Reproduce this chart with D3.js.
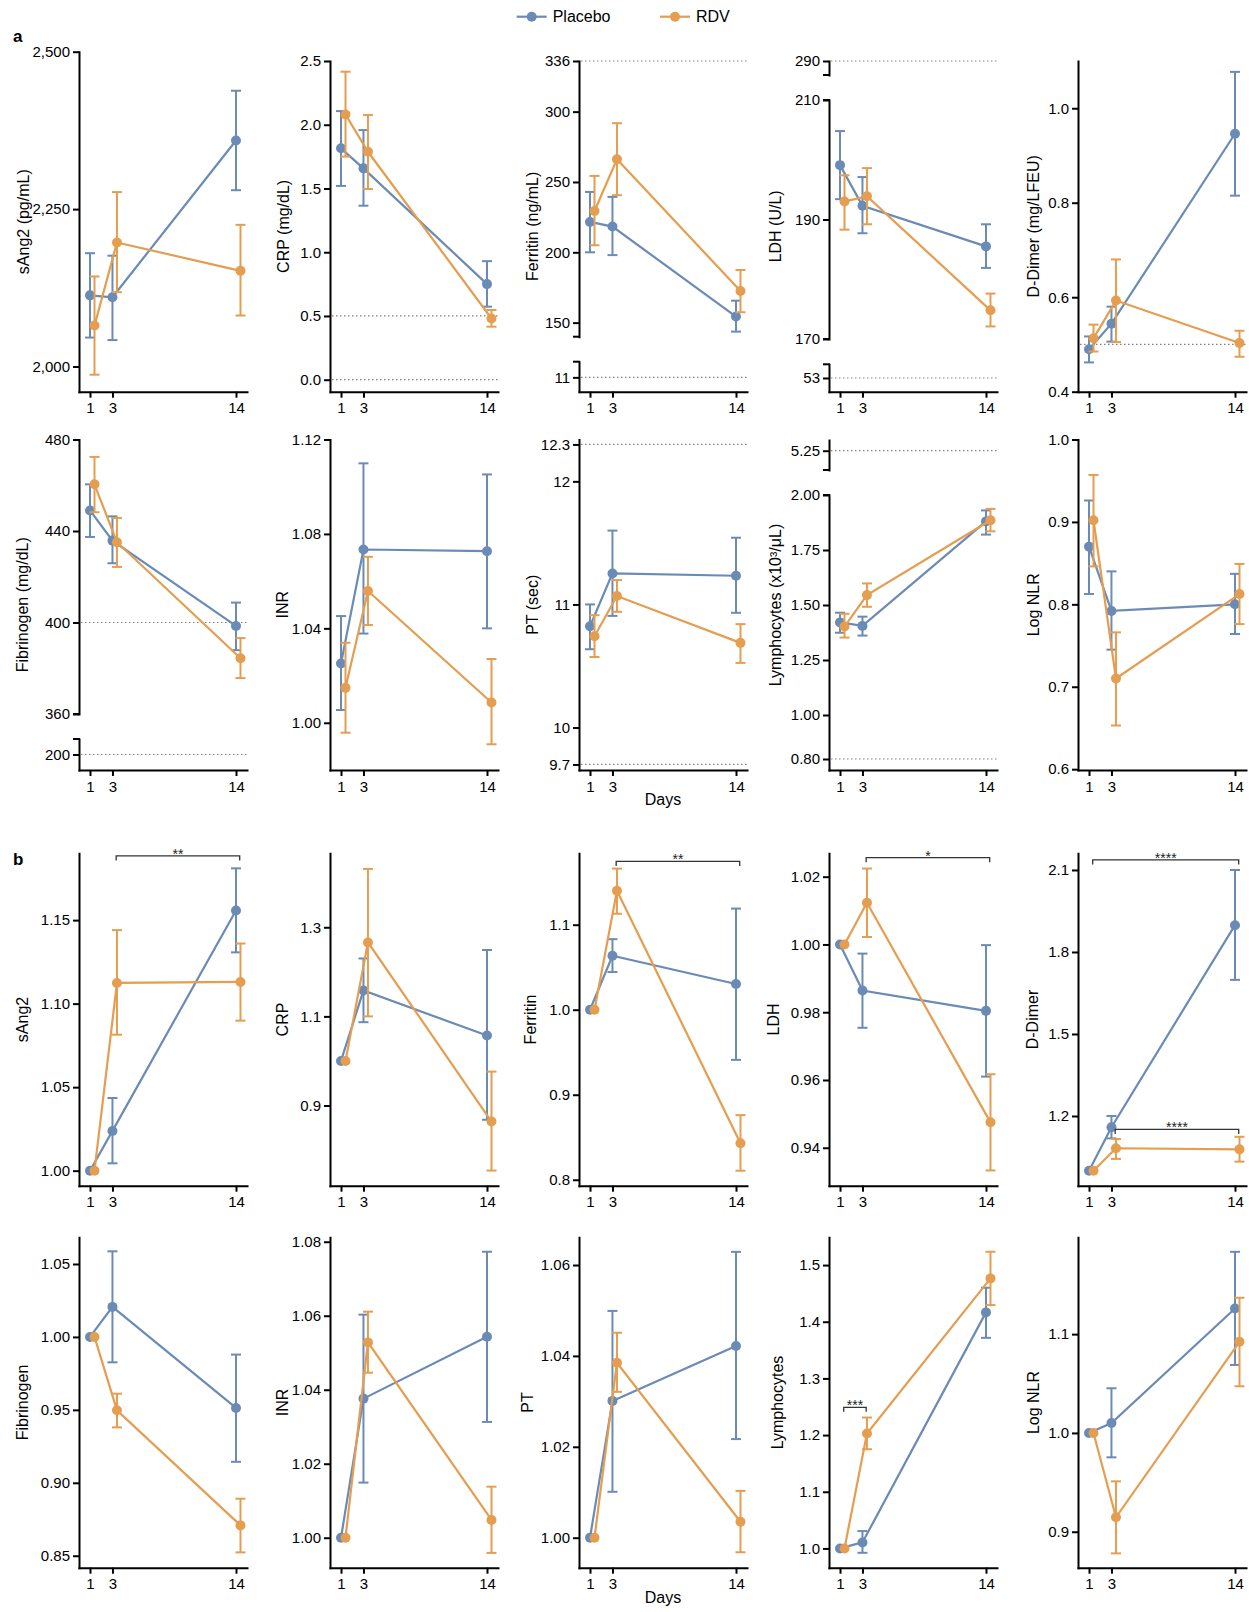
<!DOCTYPE html>
<html>
<head>
<meta charset="utf-8">
<script src="https://cdn.jsdelivr.net/npm/d3@7"></script>
<style>
  body { margin: 0; background: #fff; }
  svg { display: block; font-family: "Liberation Sans", Arial, sans-serif; }
</style>
</head>
<body>
<svg id="chart" width="1249" height="1612"></svg>
<script>
// days on the x axis
const days = [1, 3, 14];
const groups = ['Placebo', 'RDV'];

// each entry: [mean, lower, upper] for day 1, 3, 14
// --- a: absolute values
const sAng2Pl = [[2113, 2046, 2180], [2110, 2042, 2176], [2359, 2280, 2438]];
const sAng2Rdv = [[2065, 1987, 2143], [2197, 2118, 2277], [2152, 2081, 2225]];
const crpPl = [[1.815, 1.52, 2.107], [1.658, 1.365, 1.958], [0.75, 0.573, 0.93]];
const crpRdv = [[2.08, 1.75, 2.416], [1.788, 1.496, 2.076], [0.48, 0.416, 0.547]];
const ferritinPl = [[221.6, 200, 242.9], [218.3, 198, 239.4], [154.3, 143.6, 165.6]];
const ferritinRdv = [[229.4, 205, 254.3], [266.1, 240.6, 291.8], [172.5, 157.4, 187.4]];
const ldhPl = [[199.1, 193.4, 204.8], [192.3, 187.7, 197.1], [185.5, 181.9, 189.2]];
const ldhRdv = [[193.0, 188.3, 197.4], [193.9, 189.2, 198.6], [174.8, 172.1, 177.6]];
const dimerPl = [[0.49, 0.462, 0.517], [0.544, 0.506, 0.58], [0.946, 0.815, 1.077]];
const dimerRdv = [[0.513, 0.485, 0.542], [0.593, 0.505, 0.68], [0.503, 0.474, 0.529]];
const fibPl = [[449.0, 437.4, 460.4], [435.8, 425.9, 446.4], [398.5, 387.9, 408.7]];
const fibRdv = [[460.4, 448.2, 472.4], [435.1, 424.3, 445.7], [384.4, 375.7, 393.2]];
const inrPl = [[1.0251, 1.0054, 1.0452], [1.0734, 1.0378, 1.1099], [1.0727, 1.04, 1.1052]];
const inrRdv = [[1.0148, 0.9958, 1.0339], [1.0558, 1.0414, 1.0703], [1.0086, 0.9909, 1.027]];
const ptPl = [[10.823, 10.636, 11.0], [11.252, 10.907, 11.60], [11.233, 10.932, 11.542]];
const ptRdv = [[10.742, 10.573, 10.913], [11.068, 10.94, 11.198], [10.688, 10.525, 10.84]];
const lymPl = [[1.421, 1.374, 1.465], [1.405, 1.361, 1.447], [1.88, 1.82, 1.93]];
const lymRdv = [[1.402, 1.352, 1.46], [1.545, 1.492, 1.598], [1.885, 1.835, 1.937]];
const nlrPl = [[0.870, 0.8125, 0.926], [0.792, 0.745, 0.840], [0.800, 0.764, 0.837]];
const nlrRdv = [[0.902, 0.846, 0.957], [0.710, 0.653, 0.766], [0.8125, 0.776, 0.849]];

// --- b: relative to day 1
const sAng2RelPl = [[1, 1, 1], [1.0238, 1.0044, 1.0435], [1.1558, 1.1307, 1.181]];
const sAng2RelRdv = [[1, 1, 1], [1.1124, 1.0814, 1.144], [1.113, 1.0898, 1.136]];
const crpRelPl = [[1, 1, 1], [1.158, 1.087, 1.230], [1.057, 0.868, 1.249]];
const crpRelRdv = [[1, 1, 1], [1.266, 1.10, 1.431], [0.864, 0.754, 0.976]];
const ferritinRelPl = [[1, 1, 1], [1.0635, 1.0443, 1.083], [1.0302, 0.941, 1.119]];
const ferritinRelRdv = [[1, 1, 1], [1.14, 1.1129, 1.166], [0.843, 0.8106, 0.876]];
const ldhRelPl = [[1, 1, 1], [0.9864, 0.9754, 0.9973], [0.9804, 0.961, 0.9998]];
const ldhRelRdv = [[1, 1, 1], [1.0123, 1.0022, 1.0224], [0.9475, 0.9333, 0.9617]];
const dimerRelPl = [[1, 1, 1], [1.159, 1.118, 1.2], [1.898, 1.698, 2.1]];
const dimerRelRdv = [[1, 1, 1], [1.082, 1.043, 1.116], [1.078, 1.033, 1.124]];
const fibRelPl = [[1, 1, 1], [1.0206, 0.9826, 1.0587], [0.9513, 0.9144, 0.9879]];
const fibRelRdv = [[1, 1, 1], [0.9497, 0.938, 0.9611], [0.8708, 0.8523, 0.8891]];
const inrRelPl = [[1, 1, 1], [1.0376, 1.0149, 1.0603], [1.0543, 1.0313, 1.0773]];
const inrRelRdv = [[1, 1, 1], [1.0528, 1.0446, 1.0611], [1.0048, 0.9959, 1.0138]];
const ptRelPl = [[1, 1, 1], [1.0301, 1.0101, 1.0499], [1.0422, 1.0217, 1.0629]];
const ptRelRdv = [[1, 1, 1], [1.0385, 1.0321, 1.0451], [1.0035, 0.9968, 1.0103]];
const lymRelPl = [[1, 1, 1], [1.0106, 0.9923, 1.0306], [1.4165, 1.3716, 1.46]];
const lymRelRdv = [[1, 1, 1], [1.2029, 1.175, 1.231], [1.4765, 1.4294, 1.5235]];
const nlrRelPl = [[1, 1, 1], [1.0101, 0.9753, 1.0452], [1.126, 1.0688, 1.1833]];
const nlrRelRdv = [[1, 1, 1], [0.9146, 0.8781, 0.951], [1.0922, 1.0472, 1.1368]];

// layout
const colX = [79, 330, 579, 829, 1078];
const rows = [
  { top: 61, bottom: 391.7 },
  { top: 439.5, bottom: 770 },
  { top: 853.3, bottom: 1185.7 },
  { top: 1237.3, bottom: 1567.7 }
];
const color = { Placebo: '#6a8bb5', RDV: '#e59d50' };
const dayShift = { Placebo: 0, RDV: 0.4 };

const f2 = d3.format('.2f'), f1 = d3.format('.1f');

// segs: domain, ticks, px = [top, bottom] relative to row top (broken axes)
const panels = [
  { row: 0, col: 0, title: 'sAng2 (pg/mL)', pl: sAng2Pl, rdv: sAng2Rdv, fmt: d3.format(','), tdx: -56,
    segs: [{ domain: [1960, 2500], ticks: [2000, 2250, 2500], px: [-9.3, 330.7] }], refs: [] },
  { row: 0, col: 1, title: 'CRP (mg/dL)', pl: crpPl, rdv: crpRdv, fmt: f1, tdx: -47,
    segs: [{ domain: [-0.094, 2.5], ticks: [0, 0.5, 1, 1.5, 2, 2.5] }], refs: [0.5, 0] },
  { row: 0, col: 2, title: 'Ferritin (ng/mL)', pl: ferritinPl, rdv: ferritinRdv, fmt: String, tdx: -47,
    segs: [{ domain: [140, 336], ticks: [150, 200, 250, 300, 336], px: [0, 275.7] },
           { domain: [0, 23], ticks: [11], px: [300.7, 330.7] }], refs: [336, 11] },
  { row: 0, col: 3, title: 'LDH (U/L)', pl: ldhPl, rdv: ldhRdv, fmt: String, tdx: -54,
    segs: [{ domain: [288, 290], ticks: [290], px: [0, 14] },
           { domain: [170, 210], ticks: [170, 190, 210], px: [39, 278] },
           { domain: [40, 66], ticks: [53], px: [303.3, 330.7] }], refs: [290, 53] },
  { row: 0, col: 4, title: 'D-Dimer (mg/LFEU)', pl: dimerPl, rdv: dimerRdv, fmt: f1, tdx: -45,
    segs: [{ domain: [0.4, 1.1], ticks: [0.4, 0.6, 0.8, 1.0] }], refs: [0.5] },

  { row: 1, col: 0, title: 'Fibrinogen (mg/dL)', pl: fibPl, rdv: fibRdv, fmt: String, tdx: -57,
    segs: [{ domain: [360, 480], ticks: [360, 400, 440, 480], px: [0, 274.5] },
           { domain: [185, 215], ticks: [200], px: [299.5, 330.5] }], refs: [400, 200] },
  { row: 1, col: 1, title: 'INR', pl: inrPl, rdv: inrRdv, fmt: f2, tdx: -48,
    segs: [{ domain: [0.98, 1.12], ticks: [1.00, 1.04, 1.08, 1.12] }], refs: [] },
  { row: 1, col: 2, title: 'PT (sec)', pl: ptPl, rdv: ptRdv, fmt: String, tdx: -47, xlabel: 'Days',
    segs: [{ domain: [9.655, 12.34], ticks: [9.7, 10, 11, 12, 12.3] }], refs: [12.3, 9.7] },
  { row: 1, col: 3, title: 'Lymphocytes (x10³/μL)', pl: lymPl, rdv: lymRdv, fmt: f2, tdx: -54,
    segs: [{ domain: [5.16, 5.30], ticks: [5.25], px: [0.5, 30.5] },
           { domain: [0.75, 2.0], ticks: [0.80, 1.00, 1.25, 1.50, 1.75, 2.00], px: [55.5, 330.5] }], refs: [5.25, 0.80] },
  { row: 1, col: 4, title: 'Log NLR', pl: nlrPl, rdv: nlrRdv, fmt: f1, tdx: -45,
    segs: [{ domain: [0.599, 1.0], ticks: [0.6, 0.7, 0.8, 0.9, 1.0] }], refs: [] },

  { row: 2, col: 0, title: 'sAng2', pl: sAng2RelPl, rdv: sAng2RelRdv, fmt: f2, tdx: -57,
    segs: [{ domain: [0.991, 1.19], ticks: [1.00, 1.05, 1.10, 1.15] }], refs: [],
    brackets: [{ from: 3, to: 14, at: 1.1884, label: '**' }] },
  { row: 2, col: 1, title: 'CRP', pl: crpRelPl, rdv: crpRelRdv, fmt: f1, tdx: -48,
    segs: [{ domain: [0.72, 1.466], ticks: [0.9, 1.1, 1.3] }], refs: [] },
  { row: 2, col: 2, title: 'Ferritin', pl: ferritinRelPl, rdv: ferritinRelRdv, fmt: f1, tdx: -49,
    segs: [{ domain: [0.793, 1.184], ticks: [0.8, 0.9, 1.0, 1.1] }], refs: [],
    brackets: [{ from: 3, to: 14, at: 1.1745, label: '**' }] },
  { row: 2, col: 3, title: 'LDH', pl: ldhRelPl, rdv: ldhRelRdv, fmt: f2, tdx: -55.6,
    segs: [{ domain: [0.9288, 1.0269], ticks: [0.94, 0.96, 0.98, 1.00, 1.02] }], refs: [],
    brackets: [{ from: 3, to: 14, at: 1.0256, label: '*' }] },
  { row: 2, col: 4, title: 'D-Dimer', pl: dimerRelPl, rdv: dimerRelRdv, fmt: f1, tdx: -45.6,
    segs: [{ domain: [0.945, 2.161], ticks: [1.2, 1.5, 1.8, 2.1] }], refs: [],
    brackets: [{ from: 1, to: 14, at: 2.1366, label: '****' }, { from: 3, to: 14, at: 1.151, label: '****' }] },

  { row: 3, col: 0, title: 'Fibrinogen', pl: fibRelPl, rdv: fibRelRdv, fmt: f2, tdx: -57,
    segs: [{ domain: [0.8418, 1.0683], ticks: [0.85, 0.90, 0.95, 1.00, 1.05] }], refs: [] },
  { row: 3, col: 1, title: 'INR', pl: inrRelPl, rdv: inrRelRdv, fmt: f2, tdx: -48,
    segs: [{ domain: [0.9919, 1.0812], ticks: [1.00, 1.02, 1.04, 1.06, 1.08] }], refs: [] },
  { row: 3, col: 2, title: 'PT', pl: ptRelPl, rdv: ptRelRdv, fmt: f2, tdx: -52, xlabel: 'Days',
    segs: [{ domain: [0.9934, 1.0661], ticks: [1.00, 1.02, 1.04, 1.06] }], refs: [] },
  { row: 3, col: 3, title: 'Lymphocytes', pl: lymRelPl, rdv: lymRelRdv, fmt: f1, tdx: -52,
    segs: [{ domain: [0.966, 1.549], ticks: [1.0, 1.1, 1.2, 1.3, 1.4, 1.5] }], refs: [],
    brackets: [{ from: 1, to: 3, at: 1.249, label: '***' }] },
  { row: 3, col: 4, title: 'Log NLR', pl: nlrRelPl, rdv: nlrRelRdv, fmt: f1, tdx: -45,
    segs: [{ domain: [0.8636, 1.198], ticks: [0.9, 1.0, 1.1] }], refs: [] }
];

const svg = d3.select('#chart');

panels.forEach(p => {
  const ax = colX[p.col];
  const row = rows[p.row];
  const g = svg.append('g');
  const x = d3.scaleLinear().domain([0.02, 14.98]).range([ax, ax + 168]);

  const segs = p.segs.map(s => {
    const px = s.px || [0, row.bottom - row.top];
    return Object.assign({}, s, {
      top: row.top + px[0],
      bot: row.top + px[1],
      scale: d3.scaleLinear().domain(s.domain).range([row.top + px[1], row.top + px[0]])
    });
  });
  const main = segs.reduce((a, b) => (b.bot - b.top > a.bot - a.top ? b : a));
  const y = v => {
    const s = segs.find(s => v >= s.domain[0] - 1e-9 && v <= s.domain[1] + 1e-9) || main;
    return s.scale(v);
  };

  // reference lines
  p.refs.forEach(v => {
    g.append('line')
      .attr('x1', ax + 2).attr('x2', ax + 168)
      .attr('y1', y(v)).attr('y2', y(v))
      .attr('stroke', '#808080').attr('stroke-width', 1.2)
      .attr('stroke-dasharray', '1.5,2.5');
  });

  // y axis segments
  segs.forEach((s, i) => {
    const a = g.append('g')
      .attr('transform', `translate(${ax},0)`)
      .call(d3.axisLeft(s.scale).tickValues(s.ticks).tickSize(6).tickPadding(3)
        .tickSizeOuter(0).tickFormat(p.fmt));
    a.attr('font-size', 15).attr('font-family', null);
    a.select('.domain').attr('stroke', '#000').attr('stroke-width', 2).attr('stroke-linecap', 'square');
    a.selectAll('.tick line').attr('stroke', '#000').attr('stroke-width', 2);
    a.selectAll('.tick text').attr('fill', '#000');
    if (i > 0) {
      g.append('line').attr('x1', ax - 6).attr('x2', ax + 1).attr('y1', s.top).attr('y2', s.top)
        .attr('stroke', '#000').attr('stroke-width', 2);
    }
    if (i < segs.length - 1) {
      g.append('line').attr('x1', ax - 6).attr('x2', ax + 1).attr('y1', s.bot).attr('y2', s.bot)
        .attr('stroke', '#000').attr('stroke-width', 2);
    }
  });

  // x axis
  const xa = g.append('g')
    .attr('transform', `translate(0,${row.bottom})`)
    .call(d3.axisBottom(x).tickValues(days).tickSize(6).tickPadding(5).tickSizeOuter(0));
  xa.attr('font-size', 15).attr('font-family', null);
  xa.select('.domain').attr('stroke', '#000').attr('stroke-width', 2).attr('stroke-linecap', 'square');
  xa.selectAll('.tick line').attr('stroke', '#000').attr('stroke-width', 2);
  xa.selectAll('.tick text').attr('fill', '#000');

  // y title
  const yTop = segs[0].top;
  g.append('text')
    .attr('transform', `translate(${ax + p.tdx},${(yTop + row.bottom) / 2}) rotate(-90)`)
    .attr('text-anchor', 'middle').attr('dy', '0.35em')
    .attr('font-size', 16).attr('fill', '#000')
    .text(p.title);

  if (p.xlabel) {
    g.append('text')
      .attr('x', ax + 84).attr('y', row.bottom + 35)
      .attr('text-anchor', 'middle').attr('font-size', 16).attr('fill', '#000')
      .text(p.xlabel);
  }

  // series
  groups.forEach(gr => {
    const vals = gr === 'Placebo' ? p.pl : p.rdv;
    const xs = days.map(d => x(d + dayShift[gr]));
    g.append('path')
      .datum(vals)
      .attr('d', d3.line().x((d, i) => xs[i]).y(d => y(d[0])))
      .attr('fill', 'none').attr('stroke', color[gr]).attr('stroke-width', 2.2);

    const eb = g.append('g').attr('stroke', color[gr]).attr('stroke-width', 2);
    vals.forEach((v, i) => {
      if (v[2] <= v[1]) return;
      const cx = xs[i], y1 = y(v[1]), y2 = y(v[2]);
      eb.append('line').attr('x1', cx).attr('x2', cx).attr('y1', y1).attr('y2', y2);
      eb.append('line').attr('x1', cx - 5).attr('x2', cx + 5).attr('y1', y1).attr('y2', y1);
      eb.append('line').attr('x1', cx - 5).attr('x2', cx + 5).attr('y1', y2).attr('y2', y2);
    });

    g.append('g').selectAll('circle')
      .data(vals)
      .enter()
      .append('circle')
      .attr('cx', (d, i) => xs[i])
      .attr('cy', d => y(d[0]))
      .attr('r', 5)
      .attr('fill', color[gr]);
  });

  // significance brackets
  (p.brackets || []).forEach(b => {
    const x1 = x(b.from + 0.33), x2 = x(b.to + 0.33), yy = y(b.at);
    g.append('path')
      .attr('d', `M${x1},${yy + 4.5}V${yy}H${x2}V${yy + 4.5}`)
      .attr('fill', 'none').attr('stroke', '#333').attr('stroke-width', 1.3);
    g.append('text')
      .attr('x', (x1 + x2) / 2).attr('y', yy + 3)
      .attr('text-anchor', 'middle').attr('font-size', 14).attr('fill', '#222')
      .text(b.label);
  });
});

// panel letters
svg.append('text').attr('x', 13).attr('y', 41.7).attr('font-size', 17).attr('font-weight', 'bold').text('a');
svg.append('text').attr('x', 13).attr('y', 865).attr('font-size', 17).attr('font-weight', 'bold').text('b');

// legend
const legend = svg.append('g');
const legendItems = [{ name: 'Placebo', x: 516.7 }, { name: 'RDV', x: 660 }];
legendItems.forEach(it => {
  legend.append('line').attr('x1', it.x).attr('x2', it.x + 30).attr('y1', 16.7).attr('y2', 16.7)
    .attr('stroke', color[it.name]).attr('stroke-width', 2.2);
  legend.append('circle').attr('cx', it.x + 15).attr('cy', 16.7).attr('r', 5).attr('fill', color[it.name]);
  legend.append('text').attr('x', it.x + 36).attr('y', 16.7).attr('dy', '0.35em')
    .attr('font-size', 16).attr('fill', '#000').text(it.name);
});
</script>
</body>
</html>
